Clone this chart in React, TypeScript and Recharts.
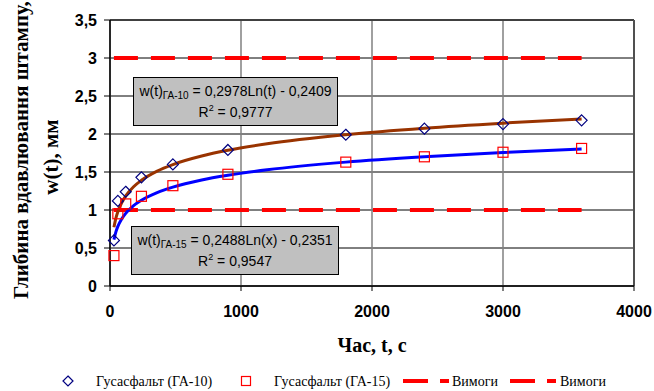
import React from 'react';
import {
  ComposedChart,
  Line,
  Scatter,
  XAxis,
  YAxis,
  CartesianGrid,
  ReferenceLine,
  Legend,
} from 'recharts';

// ---- data ----
const ga10T = [30, 60, 120, 240, 480, 900, 1800, 2400, 3000, 3600];
const ga10W = [0.6, 1.12, 1.24, 1.43, 1.6, 1.79, 1.99, 2.07, 2.13, 2.18];
const ga15T = [30, 60, 120, 240, 480, 900, 1800, 2400, 3000, 3600];
const ga15W = [0.4, 0.95, 1.08, 1.18, 1.32, 1.47, 1.63, 1.7, 1.76, 1.81];

const trendT = [30, 45, 60, 90, 120, 180, 240, 360, 480, 700, 900, 1200, 1800, 2400, 3000, 3600];
const trend10W = [0.772, 0.893, 0.978, 1.099, 1.185, 1.306, 1.391, 1.512, 1.598, 1.71, 1.785, 1.871, 1.991, 2.077, 2.143, 2.198];
const trend15W = [0.611, 0.712, 0.784, 0.884, 0.956, 1.057, 1.128, 1.229, 1.301, 1.395, 1.457, 1.529, 1.63, 1.701, 1.757, 1.802];

const reqT = [30, 3600];
const reqUpper = [3, 3];
const reqLower = [1, 1];

const xTicks = [0, 1000, 2000, 3000, 4000];
const yTicks = [0, 0.5, 1, 1.5, 2, 2.5, 3, 3.5];

const seriesNames = ['Гусасфальт (ГА-10)', 'Гусасфальт (ГА-15)', 'Вимоги', 'Вимоги'];

const toPts = (ts: number[], ws: number[]) => ts.map((t, i) => ({ t, w: ws[i] }));

const ga10Data = toPts(ga10T, ga10W);
const ga15Data = toPts(ga15T, ga15W);
const trend10Data = toPts(trendT, trend10W);
const trend15Data = toPts(trendT, trend15W);
const reqUpperData = toPts(reqT, reqUpper);
const reqLowerData = toPts(reqT, reqLower);

const SERIF = '"Liberation Serif", "Times New Roman", serif';
const SANS = '"Liberation Sans", Arial, sans-serif';

const Diamond = (props: any) => {
  const { cx, cy } = props;
  if (cx == null || cy == null) return null;
  const r = 5.5;
  return (
    <path
      d={`M${cx},${cy - r} L${cx + r},${cy} L${cx},${cy + r} L${cx - r},${cy} Z`}
      fill="none"
      stroke="#000080"
      strokeWidth={1.2}
    />
  );
};

const Square = (props: any) => {
  const { cx, cy } = props;
  if (cx == null || cy == null) return null;
  const r = 5;
  return (
    <rect x={cx - r} y={cy - r} width={2 * r} height={2 * r} fill="none" stroke="#FF0000" strokeWidth={1.2} />
  );
};

const YTitle = () => (
  <g fontFamily={SERIF} fontWeight="bold" fontSize={21} fill="#000">
    <text transform="translate(28,299) rotate(-90)" textAnchor="start">
      Глибина вдавлювання штампу,
    </text>
    <text transform="translate(58,157) rotate(-90)" textAnchor="middle">
      w(t), мм
    </text>
  </g>
);

const XTitle = (props: any) => {
  const vb = props.viewBox || { x: 110, y: 286, width: 524, height: 85 };
  return (
    <text
      x={vb.x + vb.width / 2}
      y={vb.y + vb.height - 19}
      textAnchor="middle"
      fontFamily={SERIF}
      fontWeight="bold"
      fontSize={20}
      fill="#000"
    >
      Час, t, c
    </text>
  );
};

const LegendContent = () => (
  <div style={{ position: 'relative', width: 654, height: 20 }}>
    <svg width={654} height={20} style={{ position: 'absolute', left: 0, top: 0 }}>
      <path d="M68,5 L73,10 L68,15 L63,10 Z" fill="none" stroke="#000080" strokeWidth={1.2} />
      <text x={96} y={15} fontFamily={SERIF} fontSize={14} fill="#000">{seriesNames[0]}</text>
      <rect x={241.5} y={5.5} width={9} height={9} fill="none" stroke="#FF0000" strokeWidth={1.2} />
      <text x={274} y={15} fontFamily={SERIF} fontSize={14} fill="#000">{seriesNames[1]}</text>
      <line x1={403} x2={428} y1={10} y2={10} stroke="#FF0000" strokeWidth={4} />
      <line x1={440} x2={449} y1={10} y2={10} stroke="#FF0000" strokeWidth={4} />
      <text x={452} y={15} fontFamily={SERIF} fontSize={14} fill="#000">{seriesNames[2]}</text>
      <line x1={510} x2={535} y1={10} y2={10} stroke="#FF0000" strokeWidth={4} />
      <line x1={547} x2={556} y1={10} y2={10} stroke="#FF0000" strokeWidth={4} />
      <text x={560} y={15} fontFamily={SERIF} fontSize={14} fill="#000">{seriesNames[3]}</text>
    </svg>
  </div>
);

const boxStyle: React.CSSProperties = {
  position: 'absolute',
  boxSizing: 'border-box',
  background: '#C0C0C0',
  border: '1px solid #000',
  fontFamily: SANS,
  fontSize: 14,
  color: '#000',
  textAlign: 'center',
  paddingTop: 3,
  lineHeight: '21px',
  whiteSpace: 'nowrap',
};

const subStyle: React.CSSProperties = { fontSize: 10, position: 'relative', top: 3, lineHeight: 0 };
const supStyle: React.CSSProperties = { fontSize: 9, position: 'relative', top: -6, lineHeight: 0 };

const fmt = (v: number) => String(v).replace('.', ',');

export default function App() {
  return (
    <div style={{ position: 'absolute', left: 0, top: 0, width: 654, height: 391, background: '#fff' }}>
      <ComposedChart width={654} height={391} margin={{ top: 20, right: 20, bottom: 0, left: 0 }}>
        <CartesianGrid vertical={false} stroke="#000" strokeWidth={1} />
        <CartesianGrid horizontal={false} stroke="#808080" strokeWidth={1.5} />
        <XAxis
          dataKey="t"
          type="number"
          domain={[0, 4000]}
          ticks={xTicks}
          interval={0}
          height={85}
          tickSize={5}
          tickMargin={15}
          axisLine={{ stroke: '#000', strokeWidth: 1.5 }}
          tickLine={{ stroke: '#000' }}
          tick={{ fill: '#000', fontFamily: SANS, fontWeight: 'bold', fontSize: 16 }}
          label={<XTitle />}
        />
        <YAxis
          dataKey="w"
          type="number"
          domain={[0, 3.5]}
          ticks={yTicks}
          interval={0}
          width={110}
          tickSize={6}
          tickMargin={7}
          tickFormatter={fmt}
          axisLine={{ stroke: '#000', strokeWidth: 1.5 }}
          tickLine={{ stroke: '#000' }}
          tick={{ fill: '#000', fontFamily: SANS, fontWeight: 'bold', fontSize: 16 }}
          label={<YTitle />}
        />
        <ReferenceLine y={3.5} stroke="#404040" strokeWidth={2} />
        <ReferenceLine x={4000} stroke="#505050" strokeWidth={2} />
        <Line
          data={reqUpperData}
          dataKey="w"
          name={seriesNames[2]}
          stroke="#FF0000"
          strokeWidth={4}
          strokeDasharray="24 13"
          dot={false}
          isAnimationActive={false}
        />
        <Line
          data={reqLowerData}
          dataKey="w"
          name={seriesNames[3]}
          stroke="#FF0000"
          strokeWidth={4}
          strokeDasharray="24 13"
          dot={false}
          isAnimationActive={false}
        />
        <Scatter data={ga10Data} name={seriesNames[0]} shape={<Diamond />} isAnimationActive={false} />
        <Scatter data={ga15Data} name={seriesNames[1]} shape={<Square />} isAnimationActive={false} />
        <Line
          data={trend10Data}
          dataKey="w"
          type="monotone"
          stroke="#993300"
          strokeWidth={3}
          dot={false}
          legendType="none"
          isAnimationActive={false}
        />
        <Line
          data={trend15Data}
          dataKey="w"
          type="monotone"
          stroke="#0000FF"
          strokeWidth={3}
          dot={false}
          legendType="none"
          isAnimationActive={false}
        />
        <Legend
          verticalAlign="bottom"
          content={<LegendContent />}
          wrapperStyle={{ left: 0, bottom: 0, width: 654, height: 20 }}
        />
      </ComposedChart>
      <div style={{ ...boxStyle, left: 133, top: 77, width: 205, height: 49 }}>
        <div>
          w(t)<span style={subStyle}>ГА-10</span> = 0,2978Ln(t) - 0,2409
        </div>
        <div>
          R<span style={supStyle}>2</span> = 0,9777
        </div>
      </div>
      <div style={{ ...boxStyle, left: 131, top: 226, width: 208, height: 49 }}>
        <div>
          w(t)<span style={subStyle}>ГА-15</span> = 0,2488Ln(x) - 0,2351
        </div>
        <div>
          R<span style={supStyle}>2</span> = 0,9547
        </div>
      </div>
    </div>
  );
}
